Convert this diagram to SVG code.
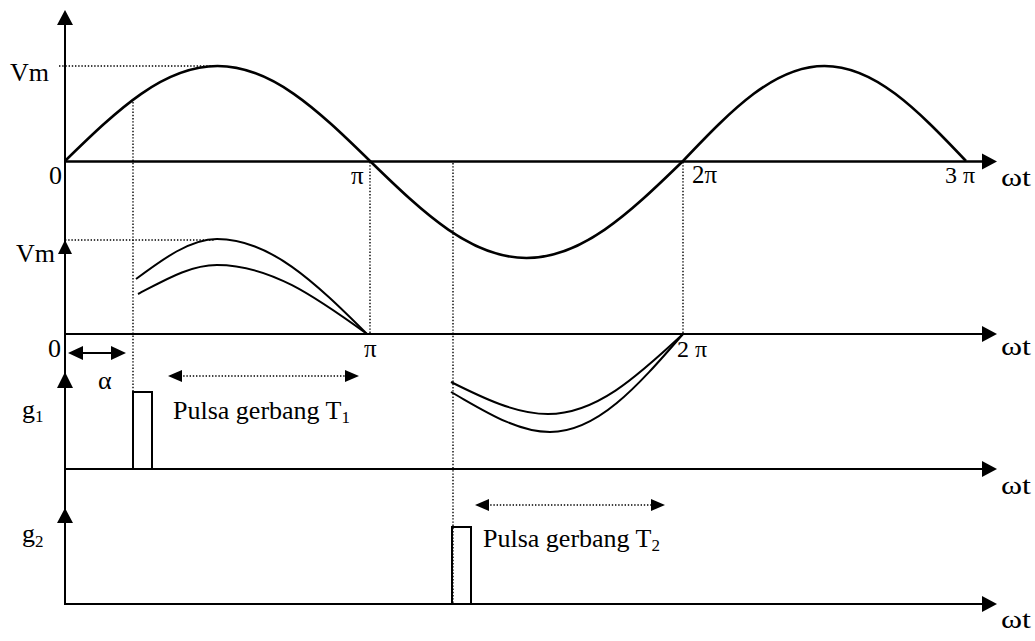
<svg xmlns="http://www.w3.org/2000/svg" width="1035" height="641" viewBox="0 0 1035 641">
<style>
.ax{stroke:#000;stroke-width:2;fill:none}
.cv{stroke:#000;stroke-width:2;fill:none}
.dot{stroke:#000;stroke-width:1.4;stroke-dasharray:1.4 1.8;fill:none}
.ah{fill:#000;stroke:none}
text{font-family:"Liberation Serif","Times New Roman",serif;font-size:26px;fill:#000}
.pi{font-size:25px}
.sub{font-size:17px}
</style>
<rect width="1035" height="641" fill="#fff"/>
<g id="axes">
<line class="ax" x1="65" y1="22" x2="65" y2="605"/>
<path class="ah" d="M65,10 L57,25 L73,25 Z"/>
<path class="ah" d="M65,240 L58,254 L72,254 Z"/>
<path class="ah" d="M65,372 L57,388 L73,388 Z"/>
<path class="ah" d="M65,508 L57,523 L73,523 Z"/>
<line class="ax" x1="64" y1="161.5" x2="986" y2="161.5" style="stroke-width:2.5"/>
<path class="ah" d="M997,161.5 L982,153.5 L982,169.5 Z"/>
<line class="ax" x1="64" y1="334" x2="986" y2="334"/>
<path class="ah" d="M997,334 L982,326 L982,342 Z"/>
<line class="ax" x1="64" y1="469" x2="986" y2="469"/>
<path class="ah" d="M997,469 L982,461 L982,477 Z"/>
<line class="ax" x1="64" y1="604" x2="986" y2="604"/>
<path class="ah" d="M997,604 L982,596 L982,612 Z"/>
</g>
<g id="guides">
<line class="dot" x1="59" y1="66" x2="214" y2="66"/>
<line class="dot" x1="65" y1="240" x2="214" y2="240"/>
<line class="dot" x1="133" y1="102" x2="133" y2="469"/>
<line class="dot" x1="370" y1="162" x2="370" y2="334"/>
<line class="dot" x1="683" y1="162" x2="683" y2="334"/>
<line class="dot" x1="453" y1="163" x2="453" y2="604"/>
</g>
<g id="sine">
<path class="cv" style="stroke-width:2.6" d="M65,161 C118.6,108.5 163.9,66 217.5,66 C271.1,66 316.4,108.5 370,161 C425,214.6 471.5,258 526.5,258 C581.5,258 628,214.6 683,161 C732.8,108.5 774.7,66 824.5,66 C874.3,66 916.2,108.5 966,161"/>
</g>
<g id="output-positive">
<path class="cv" d="M136,279 C163,259 190,239 217,239 C269.7,239 314.3,281.5 367,334"/>
<path class="cv" d="M138,294 C165,280 190,265 217,265 C269.7,265 314.3,295.9 367,334"/>
</g>
<g id="output-negative">
<path class="cv" d="M451,382 C483,398 516,414 548,414 C595.5,414 635.5,378.2 683,334"/>
<path class="cv" d="M451,392 C483,410 516,432 550,432 C596.8,432 636.2,388.1 683,334"/>
</g>
<g id="pulse-g1">
<path class="ax" d="M133,469 L133,392 L152,392 L152,469"/>
</g>
<g id="pulse-g2">
<path class="ax" d="M452,604 L452,527 L471,527 L471,604"/>
</g>
<g id="arrows">
<line class="ax" x1="80" y1="353" x2="114" y2="353"/>
<path class="ah" d="M68,353 L83,346 L83,360 Z"/>
<path class="ah" d="M126,353 L111,346 L111,360 Z"/>
<line class="dot" x1="180" y1="376" x2="347" y2="376"/>
<path class="ah" d="M168,376 L182,370 L182,382 Z"/>
<path class="ah" d="M359,376 L345,370 L345,382 Z"/>
<line class="dot" x1="487" y1="505" x2="653" y2="505"/>
<path class="ah" d="M475,505 L489,499 L489,511 Z"/>
<path class="ah" d="M665,505 L651,499 L651,511 Z"/>
</g>
<g id="labels">
<text x="10" y="81">Vm</text>
<text x="49" y="184">0</text>
<text class="pi" x="351" y="184">π</text>
<text class="pi" x="692" y="183">2π</text>
<text class="pi" x="945" y="183" style="font-size:24px">3 π</text>
<text x="1001" y="186" textLength="30" lengthAdjust="spacingAndGlyphs">ωt</text>
<text x="16" y="262">Vm</text>
<text x="48" y="357">0</text>
<text class="pi" x="364" y="357">π</text>
<text class="pi" x="677" y="357" style="font-size:24px">2 π</text>
<text x="1001" y="355" textLength="30" lengthAdjust="spacingAndGlyphs">ωt</text>
<text x="98" y="389">α</text>
<text x="22" y="418">g<tspan class="sub" dy="4">1</tspan></text>
<text x="173" y="419">Pulsa gerbang T<tspan class="sub" dy="4">1</tspan></text>
<text x="1001" y="494" textLength="30" lengthAdjust="spacingAndGlyphs">ωt</text>
<text x="483" y="547">Pulsa gerbang T<tspan class="sub" dy="4">2</tspan></text>
<text x="22" y="542">g<tspan class="sub" dy="5">2</tspan></text>
<text x="1001" y="628" textLength="30" lengthAdjust="spacingAndGlyphs">ωt</text>
</g>
</svg>
